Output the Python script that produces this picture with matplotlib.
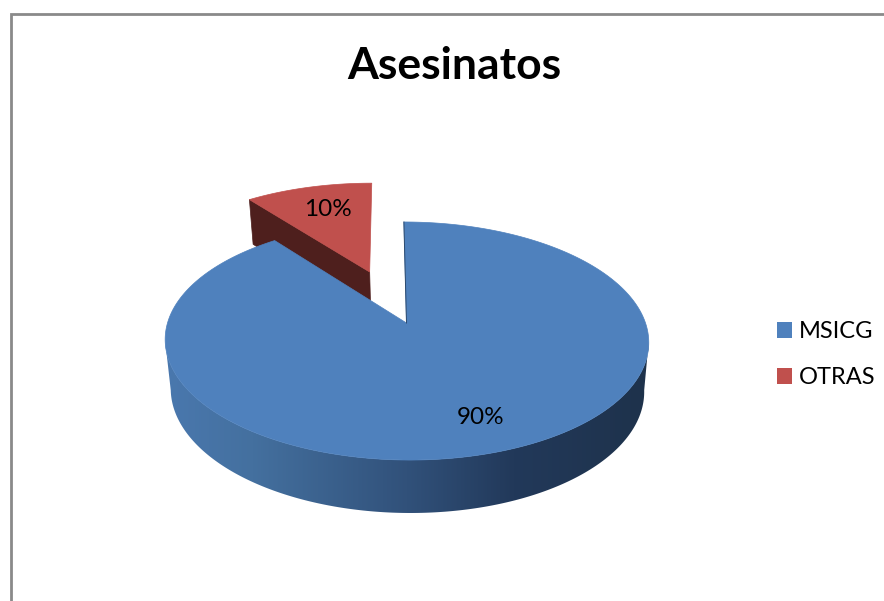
import numpy as np
import matplotlib
matplotlib.use("Agg")
import matplotlib.pyplot as plt
from matplotlib.colors import LinearSegmentedColormap
from matplotlib.patches import Patch, Polygon

title = "Asesinatos"
categories = ["MSICG", "OTRAS"]
values = [89.6, 10.4]
explode = [0.0, 0.496]
colors = ["#4F81BD", "#C0504D"]

W, H = 884, 601
fig = plt.figure(figsize=(W / 100, H / 100), dpi=100, facecolor="white")
ax = fig.add_axes([0, 0, 1, 1])
ax.set_xlim(0, W)
ax.set_ylim(H, 0)
ax.axis("off")

# perspective view of the pie: top plane and bottom plane
X0, C, SK = 406.5, 0.1513, 3.0
TOP = dict(x0=X0, y0=323.0, A=239.0, a=116.3)
LOW = dict(x0=X0 + 0.5, y0=371.6, A=234.0, a=120.0)


def project(u, v, p):
    w = 1 + C * v
    return p["x0"] + (p["A"] * u - SK * v) / w, p["y0"] - p["a"] * v / w


def rim(a0, a1, p, off=(0, 0), n=240):
    t = np.radians(np.linspace(a0, a1, n))
    return project(np.sin(t) + off[0], np.cos(t) + off[1], p)


fr = np.array(values) / sum(values) * 360
stops = np.concatenate([[0], np.cumsum(fr)])
a_blue = (stops[0], stops[1])
a_red = (stops[1], stops[2])
mid = np.radians(sum(a_red) / 2)
off = (explode[1] * np.sin(mid), explode[1] * np.cos(mid))

# frame of the chart
ax.plot([10.5, 10.5, W + 2], [H + 2, 14, 14], color="#8a8a8a", lw=2.0,
        solid_joinstyle="miter", zorder=1)

# exploded slice: visible cut face, then top
ax0, ay0 = project(off[0], off[1], TOP)
bx0, by0 = project(off[0], off[1], LOW)
tx, ty = rim(a_red[0], a_red[0], TOP, off, 1)
lx, ly = rim(a_red[0], a_red[0], LOW, off, 1)
ax.add_patch(Polygon([(ax0, ay0), (tx[0], ty[0]), (lx[0], ly[0]), (bx0, by0)],
                     closed=True, fc="#4E1F1D", ec="#4E1F1D", lw=0.5, zorder=2))
rx, ry = rim(a_red[0], a_red[1], TOP, off)
ax.fill(np.r_[ax0, rx], np.r_[ay0, ry], fc=colors[1], ec=colors[1], lw=0.5, zorder=3)

# rim of the main slice with its horizontal shading
tx, ty = rim(90 + 8.7, 270 - 8.7, TOP)
lx, ly = rim(90 + 8.7, 270 - 8.7, LOW)
side = Polygon(np.c_[np.r_[tx, lx[::-1]], np.r_[ty, ly[::-1]]], closed=True,
               fc="none", ec="none", transform=ax.transData, zorder=4)
ax.add_patch(side)
shade = LinearSegmentedColormap.from_list(
    "rim", [(0, "#4A78AE"), (0.18, "#44709F"), (0.5, "#31517A"),
            (0.72, "#22395A"), (1, "#1E324B")])
im = ax.imshow(np.linspace(0, 1, 256)[None, :], cmap=shade, aspect="auto",
               extent=(165, 650, 520, 330), zorder=4)
im.set_clip_path(side)
ax.set_xlim(0, W)
ax.set_ylim(H, 0)

# top of the main slice
ax0, ay0 = project(0, 0, TOP)
rx, ry = rim(a_blue[0], a_blue[1], TOP, n=720)
ax.fill(np.r_[ax0, rx], np.r_[ay0, ry], fc=colors[0], ec=colors[0], lw=0.5, zorder=5)
ax.plot([rx[0], ax0], [ry[0], ay0], color="#2C4A6E", lw=0.7, zorder=6)

# labels
LAB = dict(family="Lato", color="black", ha="center", va="center", zorder=7)
pct = [f"{v:.0f}%" for v in values]
ax.text(481, 418, pct[0], fontsize=17.5, **LAB)
ax.text(327.5, 210, pct[1], fontsize=17.5, **LAB)
ax.text(454.5, 66, title, fontsize=32, fontweight="bold", **LAB)

handles = [Patch(fc=c, ec="none", label=n) for c, n in zip(colors, categories)]
ax.legend(handles=handles, loc="upper left", bbox_to_anchor=(770, 314),
          bbox_transform=ax.transData, frameon=False,
          prop=dict(family="Lato", size=17), handlelength=0.635, handleheight=0.635,
          handletextpad=0.3, labelspacing=1.07, borderpad=0.3, borderaxespad=0)

fig.savefig("out.png", dpi=100, facecolor="white")
